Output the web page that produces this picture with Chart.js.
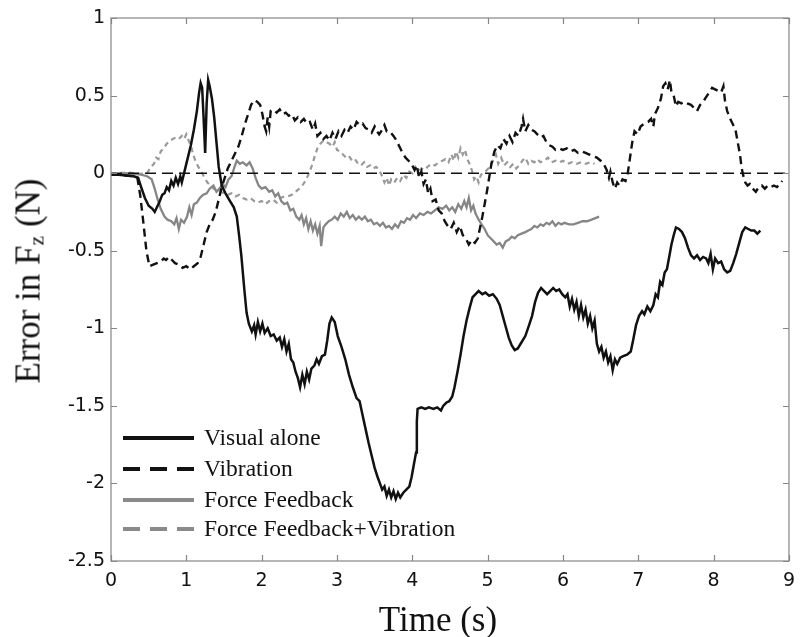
<!DOCTYPE html>
<html>
<head>
<meta charset="utf-8">
<script src="https://cdn.jsdelivr.net/npm/chart.js@4.4.1/dist/chart.umd.min.js"></script>
<style>
  html, body { margin: 0; padding: 0; background: #fff; }
  #wrap { position: relative; width: 804px; height: 637px; }
  #chart { position: absolute; left: 0; top: 0; }
  .title { position: absolute; font-family: "Liberation Serif", serif; font-size: 35px; line-height: 1; color: #111; white-space: nowrap; }
  .title sub { font-size: 0.62em; vertical-align: -0.2em; line-height: 0; }
  #xtitle { left: 438px; top: 602px; transform: translateX(-50%); }
  #ytitle { left: 28px; top: 281px; transform: translate(-50%, -50%) rotate(-90deg); }
  .legend-row { position: absolute; left: 123px; height: 30px; display: flex; align-items: center;
    font-family: "Liberation Serif", serif; font-size: 23.5px; line-height: 1; color: #111; white-space: nowrap; }
  .legend-row svg { margin-right: 9px; }
</style>
</head>
<body>
<div id="wrap">
  <canvas id="chart" width="804" height="637"></canvas>
  <div class="title" id="ytitle">Error in F<sub>z</sub> (N)</div>
  <div class="title" id="xtitle">Time (s)</div>
  <div id="legend"></div>
</div>
<script>
// TICKS
const timeTicks = [0, 1, 2, 3, 4, 5, 6, 7, 8, 9];
const errorTicks = [-2.5, -2, -1.5, -1, -0.5, 0, 0.5, 1];

// SERIES  [time (s), error (N)]
const visualAlone = [
  [0,-0.01],[0.1,-0.01],[0.2,-0.015],[0.3,-0.02],[0.36,-0.03],[0.40,-0.09],[0.45,-0.16],[0.50,-0.21],[0.55,-0.23],[0.58,-0.25],
  [0.61,-0.22],[0.64,-0.19],[0.68,-0.14],[0.71,-0.13],[0.74,-0.09],[0.77,-0.11],[0.80,-0.05],[0.83,-0.08],[0.86,-0.03],[0.89,-0.07],
  [0.92,-0.02],[0.94,-0.06],[0.97,0.0],[1.02,0.10],[1.06,0.18],[1.10,0.28],[1.14,0.40],[1.17,0.52],[1.19,0.58],[1.21,0.55],
  [1.23,0.35],[1.25,0.13],[1.27,0.45],[1.29,0.60],[1.31,0.56],[1.34,0.48],[1.37,0.36],[1.40,0.20],[1.43,0.04],[1.47,-0.08],
  [1.52,-0.13],[1.58,-0.18],[1.63,-0.22],[1.67,-0.28],[1.70,-0.40],[1.73,-0.53],[1.77,-0.75],[1.80,-0.90],[1.83,-0.97],[1.87,-1.02],
  [1.90,-0.98],[1.92,-1.04],[1.95,-0.96],[1.98,-1.02],[2.01,-0.97],[2.04,-1.03],[2.08,-1.00],[2.12,-1.05],[2.16,-1.04],[2.20,-1.08],
  [2.24,-1.06],[2.27,-1.12],[2.30,-1.07],[2.33,-1.15],[2.36,-1.10],[2.39,-1.20],[2.42,-1.22],[2.45,-1.28],[2.48,-1.32],[2.51,-1.38],
  [2.54,-1.30],[2.57,-1.36],[2.60,-1.28],[2.63,-1.33],[2.66,-1.26],[2.70,-1.24],[2.73,-1.20],[2.76,-1.23],[2.80,-1.18],[2.84,-1.17],
  [2.87,-1.08],[2.90,-0.97],[2.93,-0.93],[2.97,-0.96],[3.01,-1.05],[3.06,-1.12],[3.11,-1.20],[3.16,-1.30],[3.21,-1.38],[3.26,-1.45],
  [3.30,-1.47],[3.34,-1.56],[3.38,-1.65],[3.42,-1.74],[3.46,-1.82],[3.50,-1.90],[3.54,-1.96],[3.57,-2.00],[3.60,-2.04],[3.63,-2.02],
  [3.66,-2.08],[3.69,-2.04],[3.72,-2.09],[3.75,-2.05],[3.78,-2.10],[3.81,-2.06],[3.84,-2.09],[3.88,-2.06],[3.92,-2.04],[3.96,-2.02],
  [3.99,-1.96],[4.02,-1.88],[4.05,-1.80],[4.06,-1.60],[4.07,-1.52],[4.12,-1.51],[4.17,-1.52],[4.22,-1.51],[4.28,-1.52],[4.33,-1.51],
  [4.38,-1.53],[4.41,-1.50],[4.45,-1.48],[4.49,-1.47],[4.53,-1.44],[4.56,-1.38],[4.60,-1.28],[4.64,-1.17],[4.68,-1.05],[4.72,-0.95],
  [4.76,-0.87],[4.80,-0.80],[4.84,-0.78],[4.88,-0.76],[4.93,-0.78],[4.97,-0.77],[5.02,-0.79],[5.07,-0.78],[5.12,-0.81],[5.16,-0.85],
  [5.20,-0.92],[5.24,-0.99],[5.28,-1.06],[5.32,-1.11],[5.36,-1.14],[5.40,-1.13],[5.45,-1.09],[5.50,-1.05],[5.55,-0.98],[5.59,-0.92],
  [5.63,-0.83],[5.67,-0.77],[5.71,-0.74],[5.75,-0.76],[5.79,-0.78],[5.83,-0.76],[5.87,-0.74],[5.91,-0.76],[5.95,-0.75],[5.99,-0.78],
  [6.03,-0.80],[6.06,-0.78],[6.09,-0.86],[6.12,-0.81],[6.15,-0.88],[6.18,-0.83],[6.21,-0.92],[6.24,-0.85],[6.27,-0.93],[6.30,-0.88],
  [6.33,-0.97],[6.36,-0.92],[6.39,-1.00],[6.42,-0.95],[6.45,-1.10],[6.48,-1.15],[6.51,-1.12],[6.54,-1.19],[6.57,-1.15],[6.60,-1.22],
  [6.63,-1.18],[6.66,-1.27],[6.69,-1.20],[6.72,-1.23],[6.76,-1.19],[6.80,-1.18],[6.85,-1.17],[6.90,-1.15],[6.93,-1.08],[6.97,-0.98],
  [7.01,-0.92],[7.05,-0.89],[7.08,-0.91],[7.12,-0.86],[7.16,-0.89],[7.20,-0.85],[7.23,-0.78],[7.26,-0.80],[7.29,-0.70],[7.32,-0.72],
  [7.35,-0.64],[7.38,-0.62],[7.41,-0.54],[7.44,-0.46],[7.47,-0.40],[7.50,-0.35],[7.54,-0.36],[7.58,-0.38],[7.62,-0.42],[7.66,-0.48],
  [7.70,-0.53],[7.74,-0.55],[7.78,-0.53],[7.82,-0.56],[7.86,-0.54],[7.90,-0.55],[7.93,-0.58],[7.96,-0.52],[7.99,-0.62],[8.02,-0.55],
  [8.06,-0.58],[8.10,-0.57],[8.14,-0.62],[8.18,-0.64],[8.22,-0.63],[8.26,-0.58],[8.30,-0.52],[8.34,-0.45],[8.38,-0.38],[8.42,-0.35],
  [8.46,-0.36],[8.50,-0.37],[8.54,-0.37],[8.58,-0.39],[8.62,-0.37]
];

const vibration = [
  [0,-0.01],[0.1,-0.01],[0.2,-0.015],[0.3,-0.02],[0.35,-0.03],[0.39,-0.15],[0.43,-0.32],[0.47,-0.50],[0.51,-0.60],[0.56,-0.59],
  [0.61,-0.58],[0.66,-0.57],[0.70,-0.55],[0.73,-0.56],[0.77,-0.54],[0.81,-0.56],[0.85,-0.58],[0.90,-0.59],[0.95,-0.61],[1.00,-0.60],
  [1.05,-0.62],[1.10,-0.60],[1.15,-0.58],[1.19,-0.54],[1.23,-0.46],[1.27,-0.38],[1.31,-0.33],[1.35,-0.30],[1.39,-0.25],[1.43,-0.17],
  [1.47,-0.09],[1.51,-0.03],[1.55,0.03],[1.60,0.08],[1.64,0.12],[1.69,0.17],[1.73,0.23],[1.78,0.32],[1.82,0.38],[1.86,0.44],
  [1.90,0.47],[1.94,0.46],[1.98,0.44],[2.01,0.38],[2.04,0.30],[2.06,0.27],[2.08,0.36],[2.10,0.30],[2.12,0.40],[2.16,0.41],
  [2.20,0.39],[2.24,0.41],[2.28,0.38],[2.32,0.39],[2.36,0.37],[2.40,0.38],[2.44,0.34],[2.48,0.36],[2.52,0.33],[2.56,0.35],
  [2.60,0.32],[2.64,0.33],[2.68,0.28],[2.71,0.32],[2.74,0.24],[2.78,0.26],[2.82,0.22],[2.86,0.24],[2.90,0.21],[2.94,0.26],
  [2.98,0.22],[3.02,0.27],[3.06,0.24],[3.10,0.28],[3.14,0.26],[3.18,0.30],[3.22,0.28],[3.26,0.33],[3.30,0.31],[3.34,0.32],
  [3.38,0.29],[3.42,0.28],[3.46,0.26],[3.50,0.30],[3.53,0.27],[3.56,0.25],[3.60,0.28],[3.63,0.31],[3.66,0.27],[3.70,0.27],
  [3.75,0.24],[3.79,0.21],[3.83,0.17],[3.87,0.13],[3.91,0.10],[3.95,0.08],[3.99,0.06],[4.03,0.02],[4.06,0.05],[4.09,-0.03],
  [4.12,0.01],[4.15,-0.07],[4.18,-0.04],[4.21,-0.13],[4.24,-0.10],[4.27,-0.18],[4.31,-0.17],[4.35,-0.24],[4.39,-0.26],[4.43,-0.31],
  [4.47,-0.34],[4.51,-0.36],[4.55,-0.32],[4.59,-0.38],[4.63,-0.34],[4.67,-0.40],[4.71,-0.42],[4.75,-0.46],[4.79,-0.43],[4.83,-0.45],
  [4.87,-0.42],[4.90,-0.35],[4.93,-0.28],[4.96,-0.20],[4.99,-0.12],[5.02,-0.03],[5.05,0.06],[5.09,0.14],[5.13,0.18],[5.17,0.16],
  [5.21,0.22],[5.25,0.19],[5.29,0.24],[5.33,0.20],[5.37,0.26],[5.41,0.24],[5.45,0.30],[5.47,0.35],[5.50,0.27],[5.54,0.31],
  [5.58,0.28],[5.62,0.27],[5.66,0.25],[5.70,0.23],[5.74,0.24],[5.78,0.20],[5.82,0.18],[5.86,0.17],[5.90,0.15],[5.95,0.16],
  [6.00,0.15],[6.05,0.16],[6.10,0.14],[6.15,0.15],[6.20,0.13],[6.25,0.14],[6.30,0.13],[6.35,0.12],[6.40,0.11],[6.45,0.10],
  [6.50,0.08],[6.54,0.06],[6.58,0.02],[6.61,-0.03],[6.63,0.01],[6.66,-0.06],[6.69,-0.10],[6.72,-0.06],[6.75,-0.08],[6.79,-0.04],
  [6.83,-0.05],[6.86,0.0],[6.89,0.10],[6.92,0.20],[6.95,0.27],[6.99,0.25],[7.03,0.30],[7.08,0.32],[7.13,0.33],[7.17,0.35],
  [7.20,0.30],[7.22,0.38],[7.26,0.42],[7.30,0.48],[7.33,0.56],[7.36,0.58],[7.39,0.54],[7.42,0.60],[7.44,0.52],[7.47,0.50],
  [7.50,0.43],[7.53,0.46],[7.57,0.45],[7.61,0.46],[7.65,0.45],[7.70,0.44],[7.74,0.42],[7.78,0.40],[7.82,0.44],[7.86,0.46],
  [7.90,0.49],[7.94,0.52],[7.98,0.55],[8.02,0.54],[8.06,0.53],[8.10,0.52],[8.13,0.56],[8.15,0.47],[8.18,0.40],[8.22,0.35],
  [8.26,0.31],[8.29,0.28],[8.32,0.20],[8.35,0.12],[8.37,0.04],[8.39,-0.01],[8.42,-0.06],[8.45,-0.08],[8.48,-0.07],[8.52,-0.10],
  [8.56,-0.12],[8.60,-0.09],[8.64,-0.08],[8.68,-0.10],[8.72,-0.08],[8.76,-0.09],[8.80,-0.08],[8.84,-0.09],[8.88,-0.07],[8.91,-0.05]
];

const forceFeedback = [
  [0,-0.005],[0.1,-0.01],[0.2,0.0],[0.3,-0.005],[0.4,-0.01],[0.48,-0.02],[0.54,-0.04],[0.58,-0.10],[0.62,-0.17],[0.66,-0.23],
  [0.71,-0.28],[0.75,-0.30],[0.80,-0.31],[0.84,-0.33],[0.87,-0.29],[0.90,-0.36],[0.93,-0.30],[0.97,-0.32],[1.01,-0.28],[1.04,-0.22],
  [1.07,-0.27],[1.10,-0.20],[1.14,-0.19],[1.18,-0.16],[1.22,-0.14],[1.27,-0.13],[1.31,-0.10],[1.36,-0.08],[1.40,-0.12],[1.44,-0.10],
  [1.48,-0.07],[1.52,-0.09],[1.56,-0.04],[1.60,-0.02],[1.64,0.04],[1.67,0.08],[1.71,0.06],[1.75,0.07],[1.80,0.05],[1.84,0.07],
  [1.88,0.03],[1.92,-0.03],[1.96,-0.08],[2.00,-0.10],[2.05,-0.09],[2.10,-0.12],[2.14,-0.11],[2.18,-0.15],[2.22,-0.13],[2.26,-0.18],
  [2.30,-0.20],[2.34,-0.19],[2.38,-0.24],[2.42,-0.23],[2.46,-0.28],[2.50,-0.30],[2.53,-0.27],[2.56,-0.33],[2.59,-0.29],[2.62,-0.36],
  [2.65,-0.31],[2.68,-0.37],[2.71,-0.33],[2.74,-0.39],[2.77,-0.34],[2.79,-0.47],[2.82,-0.35],[2.85,-0.33],[2.89,-0.31],[2.93,-0.30],
  [2.97,-0.28],[3.01,-0.30],[3.05,-0.26],[3.09,-0.28],[3.13,-0.25],[3.17,-0.29],[3.21,-0.27],[3.25,-0.30],[3.29,-0.28],[3.33,-0.30],
  [3.37,-0.28],[3.41,-0.31],[3.45,-0.30],[3.49,-0.33],[3.53,-0.32],[3.57,-0.34],[3.61,-0.32],[3.65,-0.35],[3.69,-0.34],[3.73,-0.36],
  [3.77,-0.33],[3.81,-0.35],[3.85,-0.31],[3.89,-0.32],[3.93,-0.29],[3.97,-0.30],[4.01,-0.27],[4.05,-0.29],[4.10,-0.26],[4.15,-0.27],
  [4.20,-0.25],[4.25,-0.26],[4.30,-0.24],[4.35,-0.22],[4.40,-0.23],[4.45,-0.21],[4.49,-0.24],[4.53,-0.22],[4.57,-0.25],[4.61,-0.20],
  [4.65,-0.23],[4.69,-0.18],[4.72,-0.22],[4.75,-0.16],[4.78,-0.24],[4.81,-0.21],[4.84,-0.26],[4.88,-0.30],[4.92,-0.33],[4.96,-0.36],
  [5.00,-0.40],[5.04,-0.42],[5.08,-0.44],[5.12,-0.46],[5.16,-0.45],[5.20,-0.48],[5.24,-0.44],[5.28,-0.43],[5.32,-0.41],[5.36,-0.42],
  [5.40,-0.40],[5.45,-0.39],[5.50,-0.38],[5.54,-0.37],[5.58,-0.36],[5.62,-0.34],[5.66,-0.35],[5.70,-0.33],[5.74,-0.34],[5.78,-0.32],
  [5.82,-0.33],[5.86,-0.31],[5.90,-0.34],[5.94,-0.32],[5.98,-0.33],[6.02,-0.32],[6.08,-0.33],[6.14,-0.33],[6.20,-0.32],[6.26,-0.31],
  [6.32,-0.31],[6.38,-0.30],[6.43,-0.29],[6.48,-0.28]
];

const forceFeedbackVibration = [
  [0,-0.005],[0.1,0.0],[0.2,0.005],[0.3,0.0],[0.4,-0.005],[0.48,0.0],[0.53,0.04],[0.57,0.06],[0.60,0.10],[0.63,0.09],
  [0.66,0.14],[0.70,0.16],[0.74,0.19],[0.78,0.21],[0.82,0.22],[0.86,0.23],[0.90,0.22],[0.94,0.24],[0.97,0.22],[1.00,0.25],
  [1.03,0.21],[1.06,0.18],[1.09,0.12],[1.12,0.08],[1.16,0.04],[1.20,0.01],[1.24,-0.03],[1.28,-0.06],[1.32,-0.08],[1.36,-0.10],
  [1.40,-0.11],[1.45,-0.12],[1.50,-0.13],[1.55,-0.14],[1.60,-0.13],[1.65,-0.15],[1.70,-0.14],[1.75,-0.16],[1.80,-0.17],[1.85,-0.16],
  [1.90,-0.18],[1.95,-0.19],[2.00,-0.18],[2.05,-0.20],[2.10,-0.18],[2.15,-0.17],[2.20,-0.19],[2.25,-0.16],[2.30,-0.15],[2.35,-0.15],
  [2.40,-0.14],[2.45,-0.12],[2.50,-0.10],[2.54,-0.08],[2.58,-0.05],[2.62,-0.01],[2.66,0.04],[2.70,0.10],[2.74,0.16],[2.78,0.19],
  [2.82,0.21],[2.86,0.20],[2.90,0.19],[2.94,0.17],[2.97,0.20],[3.00,0.15],[3.04,0.14],[3.08,0.12],[3.12,0.10],[3.16,0.11],
  [3.20,0.08],[3.24,0.09],[3.28,0.06],[3.32,0.05],[3.36,0.07],[3.40,0.04],[3.44,0.05],[3.48,0.03],[3.52,0.04],[3.56,0.02],
  [3.60,-0.02],[3.63,-0.06],[3.66,-0.03],[3.69,-0.08],[3.72,-0.04],[3.76,-0.06],[3.80,-0.03],[3.84,-0.05],[3.88,-0.01],[3.92,-0.03],
  [3.96,0.01],[4.00,0.0],[4.04,0.04],[4.08,0.01],[4.12,0.03],[4.16,0.02],[4.20,0.04],[4.25,0.06],[4.30,0.05],[4.35,0.07],
  [4.40,0.08],[4.44,0.09],[4.48,0.07],[4.52,0.12],[4.55,0.08],[4.58,0.14],[4.61,0.10],[4.64,0.16],[4.67,0.12],[4.70,0.15],
  [4.73,0.09],[4.76,0.06],[4.79,0.02],[4.82,-0.04],[4.85,-0.02],[4.88,-0.06],[4.91,-0.01],[4.95,0.0],[4.99,0.02],[5.03,0.04],
  [5.07,0.08],[5.11,0.12],[5.14,0.06],[5.18,0.10],[5.22,0.05],[5.26,0.07],[5.30,0.04],[5.34,0.06],[5.38,0.03],[5.42,0.05],
  [5.46,0.08],[5.50,0.10],[5.54,0.06],[5.58,0.08],[5.62,0.07],[5.66,0.09],[5.70,0.07],[5.75,0.08],[5.80,0.10],[5.85,0.07],
  [5.90,0.08],[5.95,0.07],[6.00,0.08],[6.06,0.06],[6.12,0.07],[6.18,0.06],[6.24,0.07],[6.30,0.06],[6.36,0.07],[6.42,0.06]
];

const zeroLine = [[0, 0], [9, 0]];

// STYLES
const series = [
  { label: 'Visual alone', data: visualAlone, color: '#111111', legendColor: '#111', dash: [], legendDash: '', width: 2.5, order: 1 },
  { label: 'Vibration', data: vibration, color: '#111111', legendColor: '#111', dash: [8, 5], legendDash: '17 10', width: 2.4, order: 2 },
  { label: 'Force Feedback', data: forceFeedback, color: '#868686', legendColor: '#8a8a8a', dash: [], legendDash: '', width: 2.3, order: 3 },
  { label: 'Force Feedback+Vibration', data: forceFeedbackVibration, color: '#9a9a9a', legendColor: '#8a8a8a', dash: [5, 4], legendDash: '17 10', width: 2.2, order: 4 }
];

// LEGEND (html)
const legendEl = document.getElementById('legend');
const legendRowY = [438, 469, 500, 529];
series.forEach((s, i) => {
  const row = document.createElement('div');
  row.className = 'legend-row';
  row.style.top = (legendRowY[i] - 15) + 'px';
  const dashAttr = s.legendDash ? ` stroke-dasharray="${s.legendDash}"` : '';
  row.innerHTML = `<svg width="72" height="8"><line x1="0" y1="4" x2="71" y2="4" stroke="${s.legendColor}" stroke-width="4"${dashAttr}/></svg><span>${s.label}</span>`;
  legendEl.appendChild(row);
});

// FRAME + INWARD TICKS
const framePlugin = {
  id: 'frame',
  afterDatasetsDraw(chart) {
    const { ctx, chartArea: a, scales: { x, y } } = chart;
    ctx.save();
    ctx.strokeStyle = '#868686';
    ctx.lineWidth = 1.2;
    ctx.strokeRect(a.left, a.top, a.right - a.left, a.bottom - a.top);
    ctx.beginPath();
    x.ticks.forEach(t => {
      const px = Math.round(x.getPixelForValue(t.value)) + 0.5;
      ctx.moveTo(px, a.bottom); ctx.lineTo(px, a.bottom - 6);
      ctx.moveTo(px, a.top); ctx.lineTo(px, a.top + 6);
    });
    y.ticks.forEach(t => {
      const py = Math.round(y.getPixelForValue(t.value)) + 0.5;
      ctx.moveTo(a.left, py); ctx.lineTo(a.left + 6, py);
      ctx.moveTo(a.right, py); ctx.lineTo(a.right - 6, py);
    });
    ctx.stroke();
    ctx.restore();
  }
};

const toPoints = arr => arr.map(([x, y]) => ({ x, y }));

const datasets = series.map(s => ({
  label: s.label,
  data: toPoints(s.data),
  borderColor: s.color,
  backgroundColor: s.color,
  borderWidth: s.width,
  borderDash: s.dash,
  pointRadius: 0,
  tension: 0,
  fill: false,
  order: s.order
}));
datasets.push({
  label: 'zero',
  data: toPoints(zeroLine),
  borderColor: '#111111',
  borderWidth: 1.5,
  borderDash: [11, 6],
  pointRadius: 0,
  fill: false,
  order: 0
});

const tickFont = { family: 'DejaVu Sans', size: 19 };

new Chart(document.getElementById('chart').getContext('2d'), {
  type: 'line',
  data: { datasets },
  options: {
    responsive: false,
    animation: false,
    layout: { padding: { left: 0, top: 18, right: 7, bottom: 0 } },
    plugins: { legend: { display: false }, tooltip: { enabled: false } },
    scales: {
      x: {
        type: 'linear',
        min: 0, max: 9,
        afterBuildTicks: s => { s.ticks = timeTicks.map(v => ({ value: v })); },
        afterFit: s => { s.height = 76; },
        grid: { display: false, drawTicks: false },
        border: { display: false },
        ticks: { font: tickFont, color: '#111', padding: 9, maxRotation: 0, autoSkip: false, callback: v => String(v) }
      },
      y: {
        type: 'linear',
        min: -2.5, max: 1,
        afterBuildTicks: s => { s.ticks = errorTicks.map(v => ({ value: v })); },
        afterFit: s => { s.width = 111; },
        grid: { display: false, drawTicks: false },
        border: { display: false },
        ticks: { font: tickFont, color: '#111', padding: 6, autoSkip: false, callback: v => String(v) }
      }
    }
  },
  plugins: [framePlugin]
});
</script>
</body>
</html>
